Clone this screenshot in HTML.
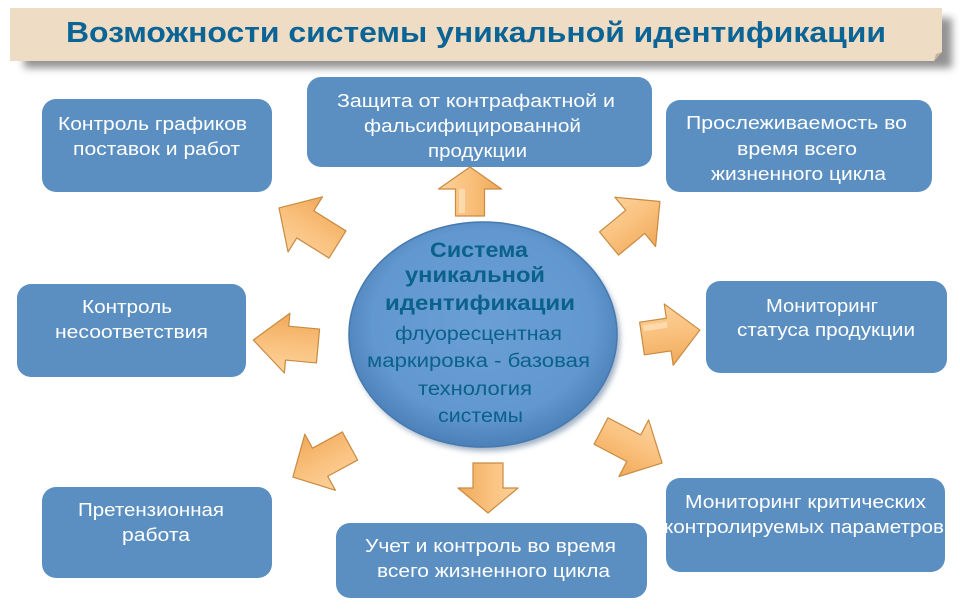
<!DOCTYPE html>
<html>
<head>
<meta charset="utf-8">
<style>
html,body{margin:0;padding:0;background:#ffffff;}
svg{display:block;}
text{font-family:"Liberation Sans","DejaVu Sans",sans-serif;}
</style>
</head>
<body>
<svg width="960" height="609" viewBox="0 0 960 609" xmlns="http://www.w3.org/2000/svg">
<defs>
  <filter id="blur4" x="-10%" y="-50%" width="120%" height="200%">
    <feGaussianBlur stdDeviation="4"/>
  </filter>
  <filter id="blur3" x="-20%" y="-20%" width="140%" height="140%">
    <feGaussianBlur stdDeviation="3"/>
  </filter>
  <radialGradient id="ell" cx="50%" cy="45%" r="55%">
    <stop offset="0%" stop-color="#6A9FD5"/>
    <stop offset="75%" stop-color="#6198CF"/>
    <stop offset="100%" stop-color="#4B80B8"/>
  </radialGradient>
  <linearGradient id="arr" x1="0" y1="0" x2="0" y2="1">
    <stop offset="0%" stop-color="#FCD29C"/>
    <stop offset="50%" stop-color="#F9C07C"/>
    <stop offset="100%" stop-color="#F0A95A"/>
  </linearGradient>
</defs>

<!-- Title banner -->
<rect x="24" y="18" width="928" height="50" fill="#6e6e6e" opacity="0.75" filter="url(#blur4)"/>
<polygon points="10,8 942,8 942,52 934,61 10,61" fill="#EEDCC4"/>
<polygon points="934,61 942,52 936,54" fill="#C8B49A"/>
<text x="66" y="42" font-size="29" font-weight="bold" fill="#0B6496" textLength="820" lengthAdjust="spacingAndGlyphs">Возможности  системы уникальной идентификации</text>

<!-- Boxes -->
<g fill="#5B8FC2">
  <rect x="42" y="99" width="230" height="93" rx="14"/>
  <rect x="17" y="284" width="229" height="93" rx="14"/>
  <rect x="307" y="77" width="345" height="90" rx="14"/>
  <rect x="666" y="100" width="266" height="92" rx="14"/>
  <rect x="706" y="281" width="241" height="92" rx="14"/>
  <rect x="666" y="478" width="279" height="94" rx="14"/>
  <rect x="42" y="487" width="230" height="91" rx="14"/>
  <rect x="336" y="523" width="311" height="75" rx="14"/>
</g>

<g fill="#ffffff" font-size="18">
  <text x="58" y="130" textLength="189" lengthAdjust="spacingAndGlyphs">Контроль  графиков</text>
  <text x="73" y="155" textLength="167" lengthAdjust="spacingAndGlyphs">поставок и работ</text>

  <text x="82" y="313" textLength="90" lengthAdjust="spacingAndGlyphs">Контроль</text>
  <text x="55" y="338" textLength="153" lengthAdjust="spacingAndGlyphs">несоответствия</text>

  <text x="337" y="107" textLength="278" lengthAdjust="spacingAndGlyphs">Защита  от контрафактной  и</text>
  <text x="364" y="132" textLength="217" lengthAdjust="spacingAndGlyphs">фальсифицированной</text>
  <text x="428" y="157" textLength="99" lengthAdjust="spacingAndGlyphs">продукции</text>

  <text x="686" y="129" textLength="221" lengthAdjust="spacingAndGlyphs">Прослеживаемость  во</text>
  <text x="737" y="155" textLength="120" lengthAdjust="spacingAndGlyphs">время  всего</text>
  <text x="711" y="180" textLength="175" lengthAdjust="spacingAndGlyphs">жизненного  цикла</text>

  <text x="766" y="312" textLength="112" lengthAdjust="spacingAndGlyphs">Мониторинг</text>
  <text x="737" y="336" textLength="178" lengthAdjust="spacingAndGlyphs">статуса продукции</text>

  <text x="685" y="508" textLength="241" lengthAdjust="spacingAndGlyphs">Мониторинг  критических</text>
  <text x="664" y="533" textLength="280" lengthAdjust="spacingAndGlyphs">контролируемых  параметров</text>

  <text x="78" y="516" textLength="146" lengthAdjust="spacingAndGlyphs">Претензионная</text>
  <text x="122" y="541" textLength="68" lengthAdjust="spacingAndGlyphs">работа</text>

  <text x="365" y="552" textLength="251" lengthAdjust="spacingAndGlyphs">Учет и контроль  во время</text>
  <text x="377" y="577" textLength="233" lengthAdjust="spacingAndGlyphs">всего жизненного  цикла</text>
</g>

<!-- Central ellipse -->
<ellipse cx="486" cy="339" rx="134" ry="112" fill="#3d5f85" opacity="0.5" filter="url(#blur3)"/>
<ellipse cx="483" cy="334.5" rx="134" ry="112.5" fill="url(#ell)" stroke="#4679AF" stroke-width="1.5"/>

<g fill="#0A6189">
  <text x="430" y="257" font-size="21" font-weight="bold" textLength="98" lengthAdjust="spacingAndGlyphs">Система</text>
  <text x="405" y="282" font-size="21" font-weight="bold" textLength="140" lengthAdjust="spacingAndGlyphs">уникальной</text>
  <text x="385" y="310" font-size="21" font-weight="bold" textLength="190" lengthAdjust="spacingAndGlyphs">идентификации</text>
  <text x="395" y="340" font-size="19" textLength="167" lengthAdjust="spacingAndGlyphs">флуоресцентная</text>
  <text x="367" y="367" font-size="19" textLength="223" lengthAdjust="spacingAndGlyphs">маркировка - базовая</text>
  <text x="418" y="395" font-size="19" textLength="114" lengthAdjust="spacingAndGlyphs">технология</text>
  <text x="438" y="422" font-size="19" textLength="85" lengthAdjust="spacingAndGlyphs">системы</text>
</g>

<!-- Arrows -->
<g fill="url(#arr)" stroke="#C98A40" stroke-width="1.2" stroke-linejoin="round">
  <g transform="translate(470,216) rotate(-90)">
    <polygon points="0,-14.5 27,-14.5 27,-31.5 49,0 27,31.5 27,14.5 0,14.5"/>
    <polygon points="3,-11 27,-11 27,-5 3,-5" fill="#FDE2BC" stroke="none" opacity="0.7"/>
  </g>
  <g transform="translate(609,243.5) rotate(-39.5)">
    <polygon points="0,-15 34,-15 34,-32 66,0 34,32 34,15 0,15"/>
  </g>
  <g transform="translate(642,338.5) rotate(-8.3)">
    <polygon points="0,-16.5 27,-16.5 27,-31 58.5,0 27,31 27,16.5 0,16.5"/>
    <polygon points="3,-13 27,-13 27,-7 3,-7" fill="#FDE2BC" stroke="none" opacity="0.7"/>
  </g>
  <g transform="translate(601,431) rotate(27.7)">
    <polygon points="0,-15 37,-15 37,-32 69,0 37,32 37,15 0,15"/>
  </g>
  <g transform="translate(488,463) rotate(90)">
    <polygon points="0,-15 25,-15 25,-30 50,0 25,30 25,15 0,15"/>
  </g>
  <g transform="translate(350,446) rotate(151.5)">
    <polygon points="0,-16 34,-16 34,-32 65,0 34,32 34,16 0,16"/>
  </g>
  <g transform="translate(318,346) rotate(185.3)">
    <polygon points="0,-17 31,-17 31,-30 65,0 31,30 31,17 0,17"/>
  </g>
  <g transform="translate(337.5,244.5) rotate(212)">
    <polygon points="0,-16 38,-16 38,-32.5 69,0 38,32.5 38,16 0,16"/>
  </g>
</g>
</svg>
</body>
</html>
